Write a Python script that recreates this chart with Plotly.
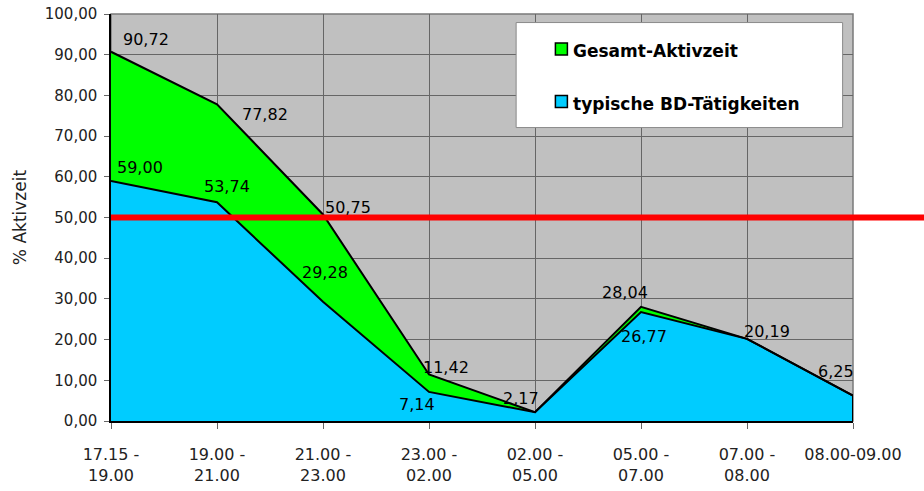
import plotly.graph_objects as go

categories = ["17.15 -<br>19.00", "19.00 -<br>21.00", "21.00 -<br>23.00", "23.00 -<br>02.00",
              "02.00 -<br>05.00", "05.00 -<br>07.00", "07.00 -<br>08.00", "08.00-09.00"]
gesamt = [90.72, 77.82, 50.75, 11.42, 2.17, 28.04, 20.19, 6.25]
typisch = [59.00, 53.74, 29.28, 7.14, 2.17, 26.77, 20.19, 6.25]
threshold = 50.0
series_names = ["Gesamt-Aktivzeit", "typische BD-Tätigkeiten"]
y_ticks = list(range(0, 101, 10))

# label offsets (pixels) – styling only
gesamt_off = [(35, 12), (48, -10), (25, 7), (17, 7), (-14, 14), (-16, 14), (20, 7), (-17, 24)]
typisch_off = [(29, 13), (10, 16), (2, 29), (-12, -13), (0, 0), (3, -24), (0, 0), (0, 0)]

FONT = "DejaVu Sans"
fig = go.Figure()
fig.add_trace(go.Scatter(x=categories, y=typisch, mode="lines", name=series_names[1],
                         fill="tozeroy", fillcolor="#00CCFF",
                         line=dict(color="black", width=2), showlegend=False))
fig.add_trace(go.Scatter(x=categories, y=gesamt, mode="lines", name=series_names[0],
                         fill="tonexty", fillcolor="#00FF00",
                         line=dict(color="black", width=2), showlegend=False))

def fmt(v):
    return f"{v:.2f}".replace(".", ",")

ann = []
for i, (c, v) in enumerate(zip(categories, gesamt)):
    dx, dy = gesamt_off[i]
    ann.append(dict(x=c, y=v, text=fmt(v), showarrow=False, xshift=dx, yshift=dy,
                    font=dict(family=FONT, size=16, color="black")))
for i, (c, v) in enumerate(zip(categories, typisch)):
    if v == gesamt[i]:
        continue
    dx, dy = typisch_off[i]
    ann.append(dict(x=c, y=v, text=fmt(v), showarrow=False, xshift=dx, yshift=dy,
                    font=dict(family=FONT, size=16, color="black")))

# legend (drawn manually to match the boxed layout)
lx0, lx1, ly0, ly1 = 0.546, 0.986, 0.721, 0.979
shapes = [
    dict(type="rect", xref="paper", yref="paper", x0=0, x1=1, y0=0, y1=1,
         line=dict(color="#7a7a7a", width=1.5), layer="below"),
    dict(type="line", xref="x", yref="y", x0=categories[-1], x1=categories[-1], y0=0, y1=gesamt[-1],
         line=dict(color="black", width=2)),
    dict(type="line", xref="paper", yref="y", x0=0, x1=1.1, y0=threshold, y1=threshold,
         line=dict(color="#FF0000", width=6)),
    dict(type="rect", xref="paper", yref="paper", x0=lx0, x1=lx1, y0=ly0, y1=ly1,
         fillcolor="white", line=dict(color="#8a8a8a", width=1), layer="above"),
]
legend_rows = [(series_names[0], "#00FF00", 0.914), (series_names[1], "#00CCFF", 0.785)]
for name, col, yc in legend_rows:
    shapes.append(dict(type="rect", xref="paper", yref="paper",
                       xsizemode="pixel", ysizemode="pixel", xanchor=0.607, yanchor=yc,
                       x0=-6, x1=6, y0=-6, y1=6,
                       fillcolor=col, line=dict(color="black", width=1.5), layer="above"))
    ann.append(dict(xref="paper", yref="paper", x=0.6205, y=yc - 0.006, text=f"<b>{name}</b>",
                    xanchor="left", yanchor="middle", showarrow=False,
                    font=dict(family=FONT, size=17, color="black")))

fig.update_layout(
    width=924, height=491, template="none",
    margin=dict(l=111, r=71, t=14, b=70, autoexpand=False),
    paper_bgcolor="white", plot_bgcolor="#C0C0C0",
    separators=",.",
    showlegend=False,
    shapes=shapes, annotations=ann,
    font=dict(family=FONT, size=15, color="#222"),
)
fig.update_xaxes(type="category", range=[0, len(categories) - 1], automargin=False,
                 showgrid=True, gridcolor="#666", gridwidth=1,
                 showline=True, linecolor="black", linewidth=2,
                 ticks="outside", ticklen=6, tickcolor="#666", ticklabelstandoff=12,
                 tickfont=dict(family=FONT, size=16, color="#222"), zeroline=False)
fig.update_yaxes(range=[0, 100], automargin=False, tickvals=y_ticks, tickformat=".2f",
                 ticklabeloverflow="allow",
                 showgrid=True, gridcolor="#666", gridwidth=1,
                 showline=True, linecolor="black", linewidth=1.5,
                 ticks="outside", ticklen=5, tickcolor="#666", ticklabelstandoff=4,
                 tickfont=dict(family=FONT, size=15, color="#222"), zeroline=False,
                 title=dict(text="% Aktivzeit", font=dict(family=FONT, size=17, color="#222"), standoff=14))

fig.write_html("out.html", config={"displayModeBar": False},
               post_script="document.body.style.margin='0';")
